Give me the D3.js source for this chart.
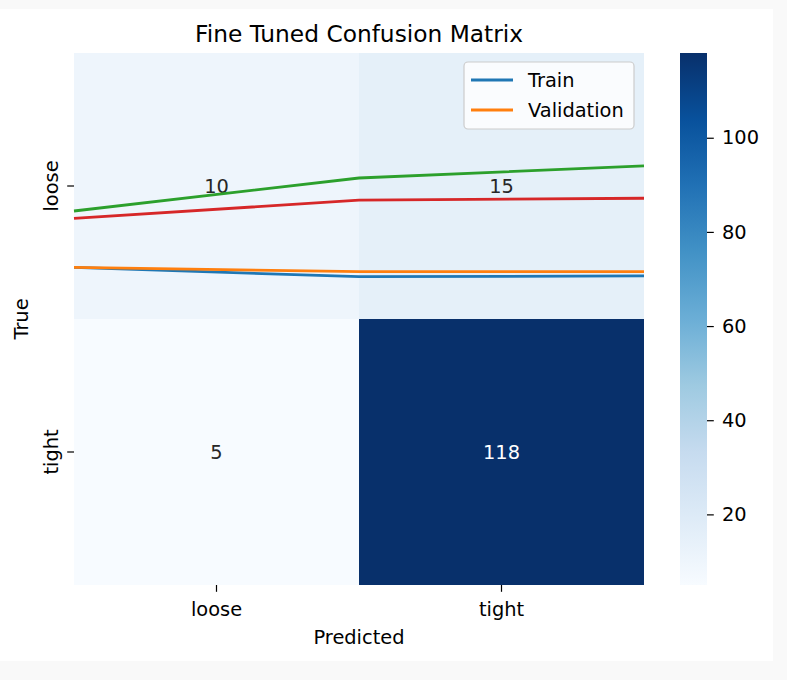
<!DOCTYPE html>
<html><head><meta charset="utf-8">
<script src="https://cdn.jsdelivr.net/npm/d3@7"></script>
<style>
body{margin:0;background:#f9f9f9;}
svg{display:block;font-family:"DejaVu Sans",sans-serif;}
</style></head>
<body><svg id="c" width="787" height="680"></svg>
<script>
const title = "Fine Tuned Confusion Matrix";
const trueLabels = ["loose", "tight"];
const predLabels = ["loose", "tight"];
const counts = [[10, 15], [5, 118]];
const epochs = [0, 1, 2];
const trainLine = [0.806, 0.841, 0.838];
const validLine = [0.806, 0.822, 0.822];
const greenLine = [0.594, 0.470, 0.424];
const redLine = [0.622, 0.553, 0.546];
const cbTicks = [20, 40, 60, 80, 100];
const blues = ["#f7fbff","#deebf7","#c6dbef","#9ecae1","#6baed6","#4292c6","#2171b5","#08519c","#08306b"];

const svg = d3.select("#c");
svg.append("rect").attr("x",0).attr("y",9).attr("width",773).attr("height",652).attr("fill","#fff");

const L=74, R=644, T=53, B=585;
const x = d3.scaleBand().domain(predLabels).range([L,R]);
const y = d3.scaleBand().domain(trueLabels).range([T,B]);
const xl = d3.scaleLinear().domain([0,2]).range([L,R]);
const yl = d3.scaleLinear().domain([0,2]).range([T,B]);

const flat = counts.flat();
const vmin = d3.min(flat), vmax = d3.max(flat);
const color = d3.scaleLinear()
  .domain(blues.map((_,i)=> vmin + (vmax-vmin)*i/(blues.length-1)))
  .range(blues).clamp(true);

const cells = [];
trueLabels.forEach((t,i)=>predLabels.forEach((p,j)=>cells.push({t,p,v:counts[i][j]})));

svg.append("g").selectAll("rect").data(cells).join("rect")
  .attr("x",d=>x(d.p)).attr("y",d=>y(d.t))
  .attr("width",x.bandwidth()).attr("height",y.bandwidth())
  .attr("fill",d=>color(d.v));

const fs = 19.4, tl = 6.8;
svg.append("g").selectAll("text").data(cells).join("text")
  .attr("x",d=>x(d.p)+x.bandwidth()/2).attr("y",d=>y(d.t)+y.bandwidth()/2)
  .attr("text-anchor","middle").attr("dy","0.36em")
  .attr("font-size",fs)
  .attr("fill",d=> (d.v-vmin)/(vmax-vmin) > 0.5 ? "#ffffff" : "#262626")
  .text(d=>d.v);

// lines
const series = [
  {vals:trainLine, c:"#1f77b4"},
  {vals:validLine, c:"#ff7f0e"},
  {vals:greenLine, c:"#2ca02c"},
  {vals:redLine, c:"#d62728"}
];
const line = d3.line().x((d,i)=>xl(epochs[i])).y(d=>yl(d));
svg.append("g").selectAll("path").data(series).join("path")
  .attr("d",d=>line(d.vals)).attr("fill","none")
  .attr("stroke",d=>d.c).attr("stroke-width",2.8);

// axes
const xAxis = svg.append("g").attr("transform",`translate(0,${B})`)
  .call(d3.axisBottom(x).tickSize(tl));
const yAxis = svg.append("g").attr("transform",`translate(${L},0)`)
  .call(d3.axisLeft(y).tickSize(tl));
[xAxis,yAxis].forEach(a=>{
  a.select(".domain").remove();
  a.selectAll("line").attr("stroke","#000").attr("stroke-width",1.2);
  a.selectAll("text").attr("font-size",fs).attr("fill","#000").attr("font-family","DejaVu Sans, sans-serif");
});
xAxis.selectAll(".tick text").attr("y",31).attr("dy",null);
yAxis.selectAll(".tick text")
  .attr("x",null).attr("y",0).attr("dy",null).attr("text-anchor","middle")
  .attr("transform","translate(-16,0) rotate(-90)");

svg.append("text").attr("x",(L+R)/2).attr("y",42).attr("text-anchor","middle")
  .attr("font-size",23.3).attr("fill","#000").text(title);
svg.append("text").attr("x",(L+R)/2).attr("y",644).attr("text-anchor","middle")
  .attr("font-size",fs).attr("fill","#000").text("Predicted");
svg.append("text").attr("transform",`translate(28,${(T+B)/2}) rotate(-90)`).attr("text-anchor","middle")
  .attr("font-size",fs).attr("fill","#000").text("True");

// colorbar
const cbX=680, cbW=27;
const cy = d3.scaleLinear().domain([vmin,vmax]).range([B,T]);
const defs = svg.append("defs");
const grad = defs.append("linearGradient").attr("id","cbg").attr("x1",0).attr("y1",1).attr("x2",0).attr("y2",0);
grad.selectAll("stop").data(blues).join("stop")
  .attr("offset",(d,i)=>i/(blues.length-1)).attr("stop-color",d=>d);
svg.append("rect").attr("x",cbX).attr("y",T).attr("width",cbW).attr("height",B-T).attr("fill","url(#cbg)");
const cAxis = svg.append("g").attr("transform",`translate(${cbX+cbW},0)`)
  .call(d3.axisRight(cy).tickValues(cbTicks).tickSize(tl).tickPadding(8.2));
cAxis.select(".domain").remove();
cAxis.selectAll("line").attr("stroke","#000").attr("stroke-width",1.2);
cAxis.selectAll("text").attr("font-size",fs).attr("fill","#000").attr("font-family","DejaVu Sans, sans-serif");

// legend
const lg = svg.append("g");
lg.append("rect").attr("x",464).attr("y",62).attr("width",170).attr("height",67).attr("rx",4)
  .attr("fill","#fff").attr("fill-opacity",0.8).attr("stroke","#cccccc").attr("stroke-width",1.2);
const legItems = [{n:"Train",c:"#1f77b4"},{n:"Validation",c:"#ff7f0e"}];
legItems.forEach((d,i)=>{
  const yy = 80 + i*30;
  lg.append("line").attr("x1",471).attr("x2",513).attr("y1",yy).attr("y2",yy).attr("stroke",d.c).attr("stroke-width",2.8);
  lg.append("text").attr("x",528).attr("y",yy).attr("dy","0.36em").attr("font-size",fs).attr("fill","#000").text(d.n);
});
</script></body></html>
